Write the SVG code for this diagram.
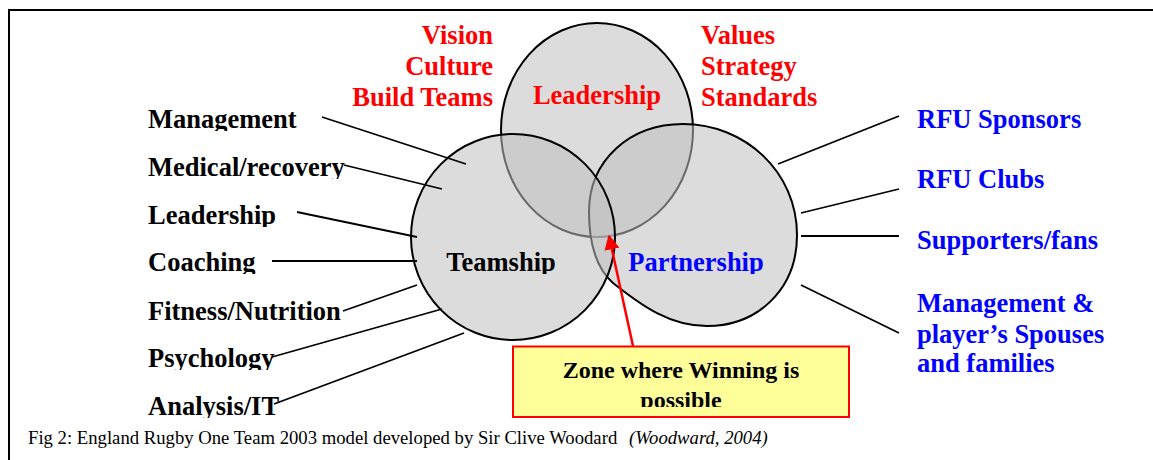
<svg xmlns="http://www.w3.org/2000/svg" width="1153" height="460" viewBox="0 0 1153 460">
  <style>
    .lbl { font-family: "Liberation Serif", "Times New Roman", serif; font-weight: bold; font-size: 26.5px; }
    .black { fill: #000000; }
    .red { fill: #ff0000; }
    .blue { fill: #0000ff; }
    .ring { fill: #c0c0c0; fill-opacity: 0.55; stroke: #000000; stroke-width: 2; }
    .conn { stroke: #000000; stroke-width: 1.8; fill: none; }
    .caption { font-family: "Liberation Serif", "Times New Roman", serif; font-size: 18.7px; fill: #000000; }
  </style>
  <defs>
    <marker id="arrow-red" viewBox="0 0 10 10" refX="9" refY="5" markerWidth="6" markerHeight="6" markerUnits="strokeWidth" orient="auto">
      <path d="M0,0 L10,5 L0,10 Z" fill="#ff0000"/>
    </marker>
    <!-- text boxes that cut off descenders -->
    <clipPath id="clip-left" clipPathUnits="userSpaceOnUse">
      <rect x="140" y="98" width="240" height="33"/>
      <rect x="140" y="146" width="240" height="33"/>
      <rect x="140" y="194" width="240" height="33"/>
      <rect x="140" y="241" width="240" height="33"/>
      <rect x="140" y="290" width="240" height="33"/>
      <rect x="140" y="337" width="240" height="33"/>
      <rect x="140" y="385" width="240" height="33"/>
    </clipPath>
    <clipPath id="clip-centre" clipPathUnits="userSpaceOnUse">
      <rect x="430" y="240" width="350" height="34"/>
    </clipPath>
    <clipPath id="clip-families" clipPathUnits="userSpaceOnUse">
      <rect x="900" y="280" width="250" height="92"/>
    </clipPath>
    <clipPath id="clip-zone" clipPathUnits="userSpaceOnUse">
      <rect x="514" y="348" width="333" height="59"/>
    </clipPath>
  </defs>

  <rect x="0" y="0" width="1153" height="460" fill="#ffffff"/>

  <!-- frame -->
  <path d="M9,460 V10 H1153" fill="none" stroke="#000000" stroke-width="2"/>

  <!-- three circles of the model -->
  <g id="leadership">
    <ellipse class="ring" cx="597" cy="130" rx="96" ry="107"/>
    <text class="lbl red" x="597" y="104" text-anchor="middle">Leadership</text>
  </g>
  <g id="partnership">
    <path class="ring" d="M589,212 C589,160 630,124 683,124 C745,124 797,172 797,235 C797,290 757,326 707,326 C670,326 642,306 613,283 C595,267 589,240 589,212 Z"/>
    <text class="lbl blue" x="696" y="271" text-anchor="middle" clip-path="url(#clip-centre)">Partnership</text>
  </g>
  <g id="teamship">
    <ellipse class="ring" cx="513" cy="237" rx="102" ry="103"/>
    <text class="lbl black" x="501" y="271" text-anchor="middle" clip-path="url(#clip-centre)">Teamship</text>
  </g>

  <!-- leadership attributes -->
  <g id="leadership-left" class="lbl red" text-anchor="end">
    <text x="493" y="44">Vision</text>
    <text x="493" y="75">Culture</text>
    <text x="493" y="106">Build Teams</text>
  </g>
  <g id="leadership-right" class="lbl red">
    <text x="701" y="44">Values</text>
    <text x="701" y="75">Strategy</text>
    <text x="701" y="106">Standards</text>
  </g>

  <!-- teamship attributes -->
  <g id="teamship-items" class="lbl black" clip-path="url(#clip-left)">
    <text x="148" y="128">Management</text>
    <text x="148" y="176">Medical/recovery</text>
    <text x="148" y="224">Leadership</text>
    <text x="148" y="271">Coaching</text>
    <text x="148" y="320">Fitness/Nutrition</text>
    <text x="148" y="367">Psychology</text>
    <text x="148" y="415">Analysis/IT</text>
  </g>

  <!-- partnership attributes -->
  <g id="partnership-items" class="lbl blue">
    <text x="917" y="128">RFU Sponsors</text>
    <text x="917" y="188">RFU Clubs</text>
    <text x="917" y="249">Supporters/fans</text>
    <g clip-path="url(#clip-families)">
      <text x="917" y="312">Management &amp;</text>
      <text x="917" y="343">player’s Spouses</text>
      <text x="917" y="372">and families</text>
    </g>
  </g>

  <!-- connectors -->
  <g id="connectors">
    <line class="conn" x1="322" y1="117" x2="466" y2="164"/>
    <line class="conn" x1="344" y1="165" x2="442" y2="189"/>
    <line class="conn" x1="297" y1="212" x2="417" y2="237"/>
    <line class="conn" x1="272" y1="261" x2="417" y2="261"/>
    <line class="conn" x1="343" y1="311" x2="417" y2="285"/>
    <line class="conn" x1="272" y1="357" x2="442" y2="309"/>
    <line class="conn" x1="274" y1="404" x2="464" y2="333"/>
    <line class="conn" x1="778" y1="164" x2="899" y2="116"/>
    <line class="conn" x1="801" y1="213" x2="899" y2="189"/>
    <line class="conn" x1="801" y1="236" x2="899" y2="236"/>
    <line class="conn" x1="801" y1="285" x2="899" y2="333"/>
    <line x1="633" y1="346" x2="609" y2="236" stroke="#ff0000" stroke-width="2.5" marker-end="url(#arrow-red)"/>
  </g>

  <!-- callout -->
  <g id="winning-zone">
    <rect x="513" y="346.5" width="336" height="70.5" fill="#ffff99" stroke="#ff0000" stroke-width="2"/>
    <g class="lbl black" text-anchor="middle" style="font-size:24px" clip-path="url(#clip-zone)">
      <text x="681" y="378">Zone where Winning is</text>
      <text x="681" y="407.5">possible</text>
    </g>
  </g>

  <!-- caption -->
  <g id="caption">
    <text class="caption" x="28" y="444">Fig 2: England Rugby One Team 2003 model developed by Sir Clive Woodard</text>
    <text class="caption" x="629" y="444" font-style="italic">(Woodward, 2004)</text>
  </g>
</svg>
